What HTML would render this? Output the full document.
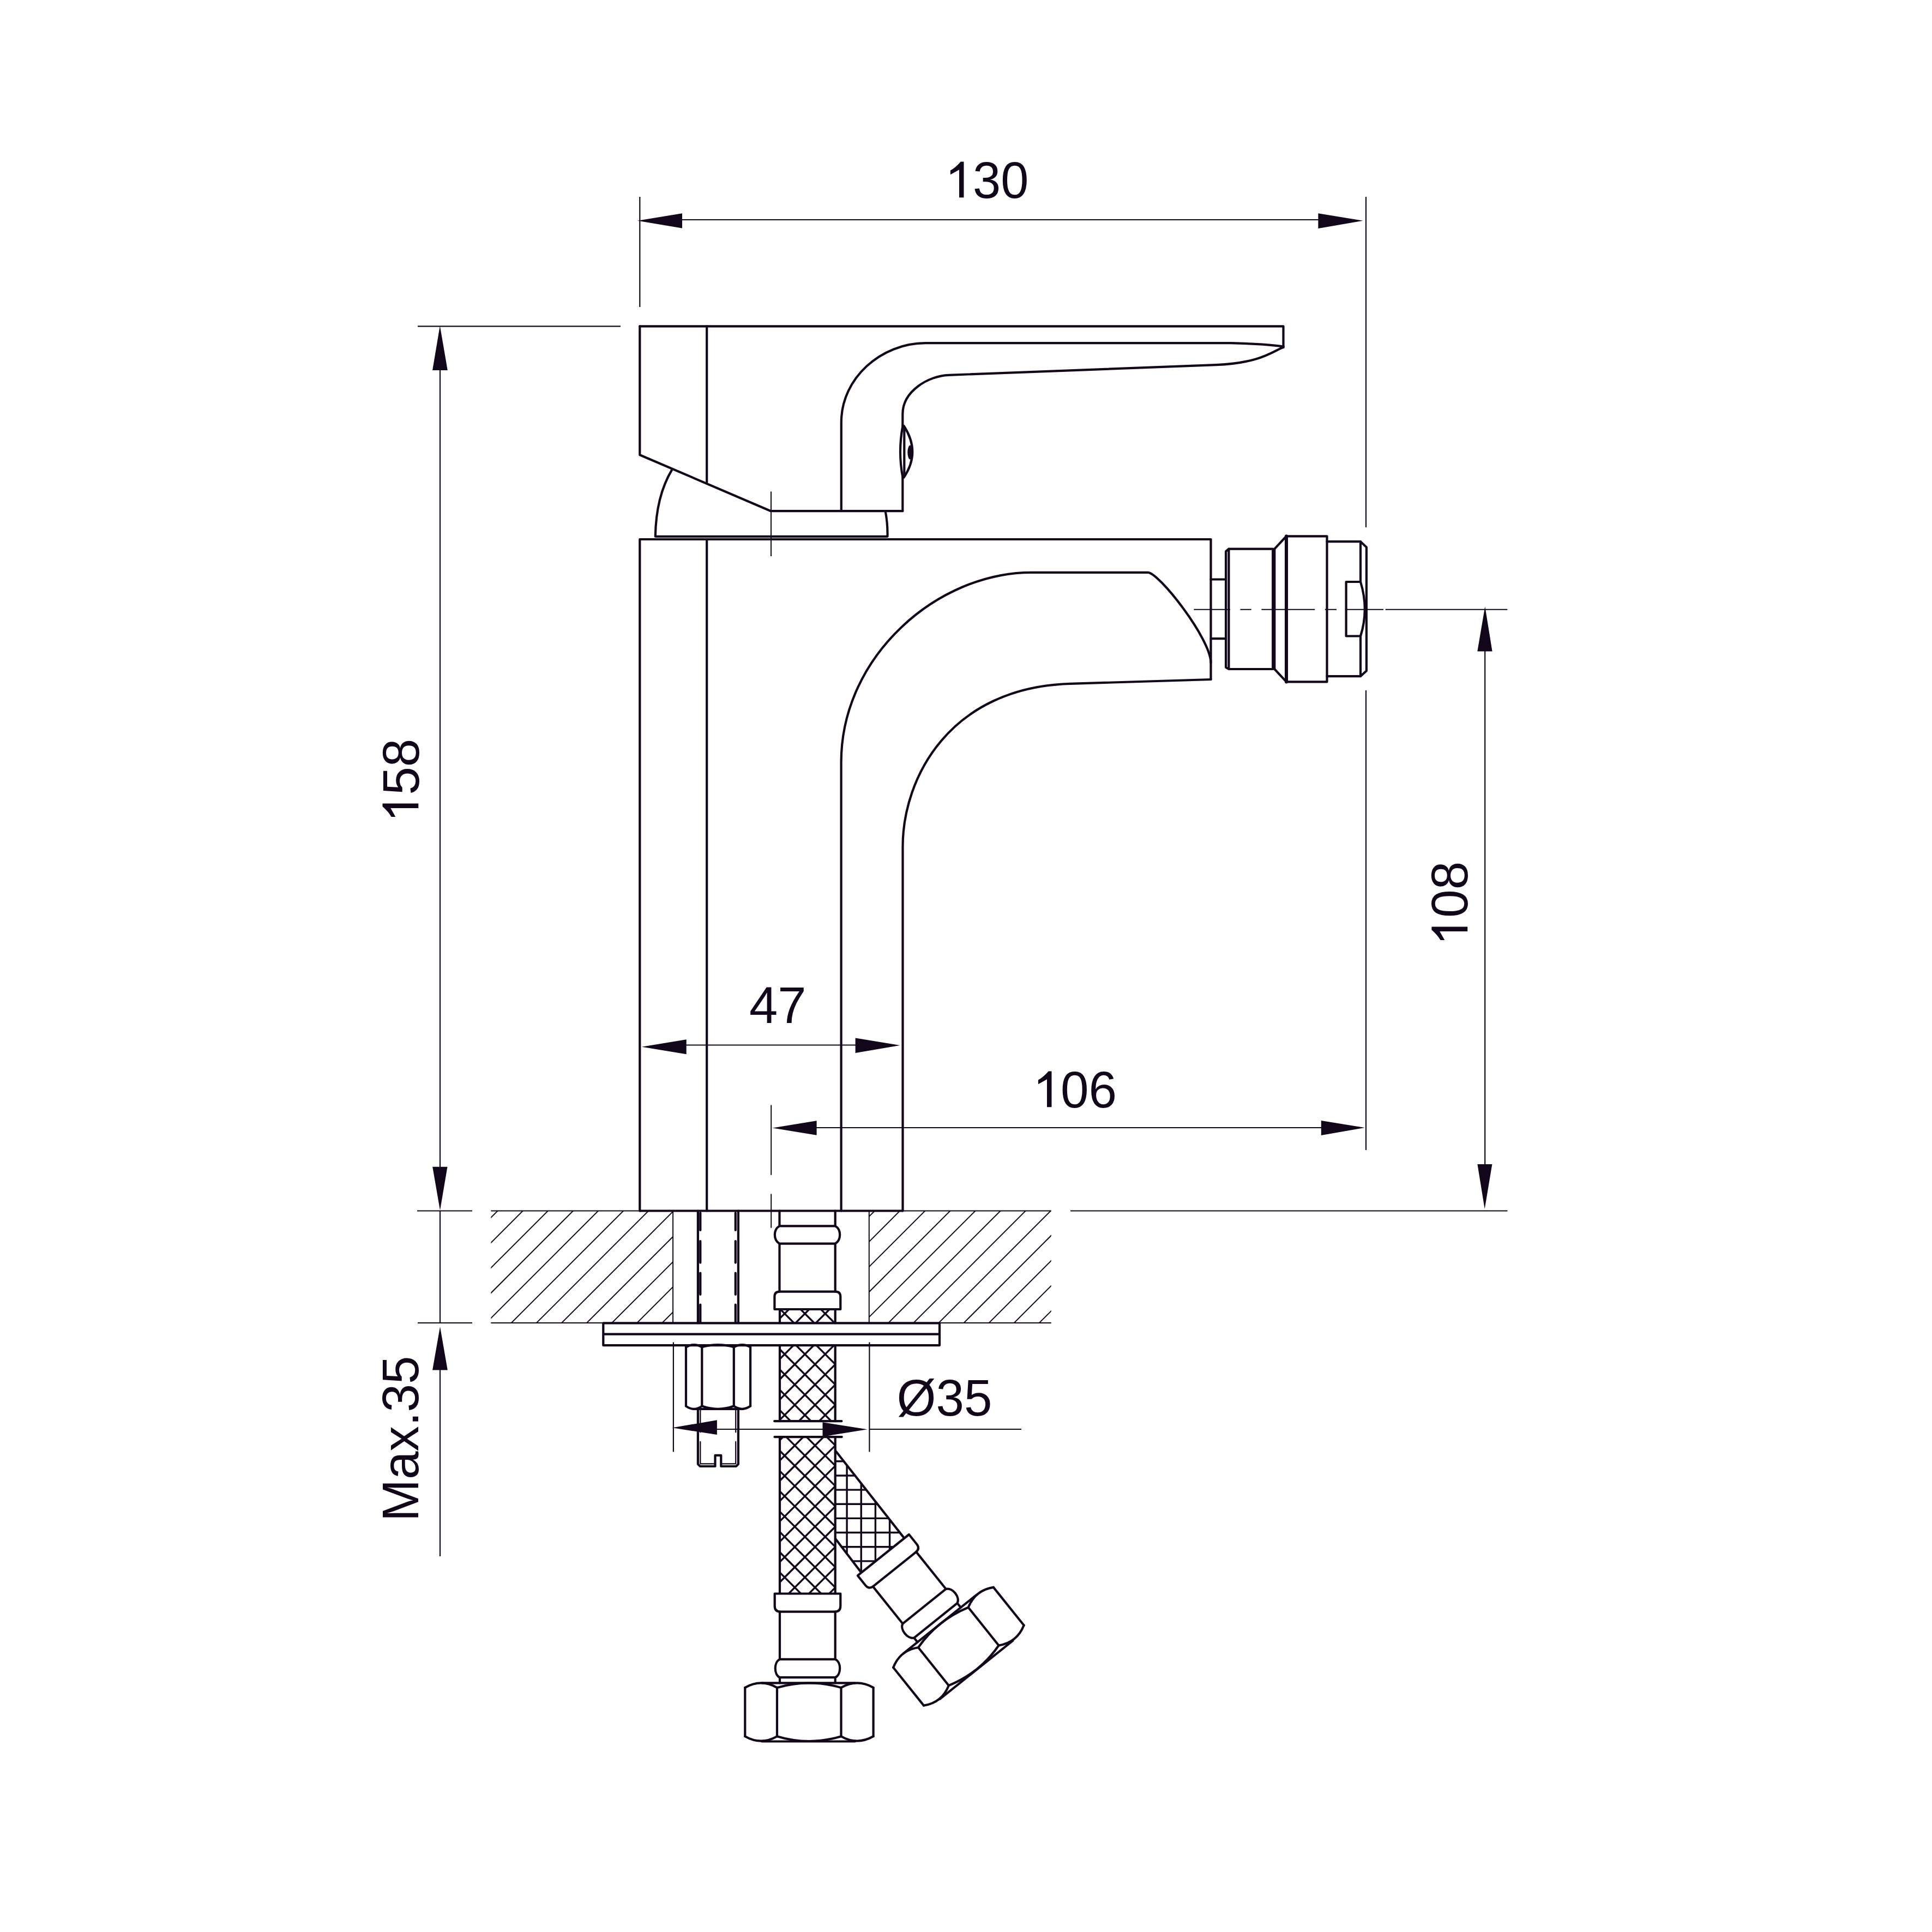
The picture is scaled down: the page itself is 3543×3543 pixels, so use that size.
<!DOCTYPE html>
<html><head><meta charset="utf-8"><style>
html,body{margin:0;padding:0;background:#fff;}
svg{display:block;}
text{font-family:"Liberation Sans",sans-serif;font-size:94px;fill:#12071a;}
</style></head><body>
<svg width="3543" height="3543" viewBox="0 0 3543 3543">
<defs>
<clipPath id="hl"><rect x="900.3" y="2220.5" width="334.5" height="205.5"/></clipPath>
<clipPath id="hr"><rect x="1594.1" y="2220.5" width="333.7" height="205.5"/></clipPath>
<clipPath id="hose1a"><rect x="1430" y="2467.4" width="101.7" height="138.8"/></clipPath>
<clipPath id="hose1b"><rect x="1430" y="2635.1" width="101.7" height="288"/></clipPath>
<clipPath id="hose0"><rect x="1430" y="2401" width="101.7" height="25.4"/></clipPath>
<clipPath id="hose2"><polygon points="1532,2660.7 1657.7,2820.1 1579,2883.3 1532.4,2822.2"/></clipPath>
</defs>
<rect width="3543" height="3543" fill="#fff"/>
<g stroke="#12071a" stroke-width="2.2" fill="none">
<line x1="1173.3" y1="361" x2="1173.3" y2="563"/>
<line x1="2505" y1="361" x2="2505" y2="967"/>
<line x1="2505" y1="1266" x2="2505" y2="2109"/>
<line x1="1250" y1="403" x2="2418" y2="403"/>
<line x1="766" y1="598.3" x2="1138" y2="598.3"/>
<line x1="765" y1="2220.5" x2="866" y2="2220.5"/>
<line x1="766" y1="2426" x2="866" y2="2426"/>
<line x1="807" y1="679" x2="807" y2="2140"/>
<line x1="807" y1="2220.5" x2="807" y2="2426"/>
<line x1="807" y1="2512" x2="807" y2="2854"/>
<line x1="2723.2" y1="1194" x2="2723.2" y2="2135"/>
<line x1="1963" y1="2220.5" x2="2764.5" y2="2220.5"/>
<line x1="1258" y1="1916.5" x2="1569" y2="1916.5"/>
<line x1="1497" y1="2068" x2="2423" y2="2068"/>
<line x1="1234.9" y1="2461.5" x2="1234.9" y2="2662.5"/>
<line x1="1594.4" y1="2461.5" x2="1594.4" y2="2662.5"/>
<line x1="1314" y1="2621" x2="1509" y2="2621"/>
<line x1="1594.4" y1="2621" x2="1873" y2="2621"/>
<line x1="900.3" y1="2220.5" x2="1927.8" y2="2220.5"/>
<line x1="900.3" y1="2426" x2="1927.8" y2="2426"/>
</g>
<polygon points="1169,404.7 1251,391.3 1251,418.6" fill="#12071a"/>
<polygon points="2499.6,404.8 2417.4,391.3 2417.4,419" fill="#12071a"/>
<polygon points="806.8,597.5 793.1,679 820.8,679" fill="#12071a"/>
<polygon points="807,2219.6 793.2,2139.8 820.5,2139.8" fill="#12071a"/>
<polygon points="807,2433 793.1,2512.6 820.8,2512.6" fill="#12071a"/>
<polygon points="2723.3,1112.2 2709.3,1194.5 2736.6,1194.5" fill="#12071a"/>
<polygon points="2722.7,2217.1 2709.4,2135 2736.4,2135" fill="#12071a"/>
<polygon points="1176.8,1919.7 1258.7,1906.3 1258.7,1933.2" fill="#12071a"/>
<polygon points="1650.5,1917 1568.6,1903.5 1568.6,1930.9" fill="#12071a"/>
<polygon points="1416.6,2068.4 1497.6,2055.3 1497.6,2081.8" fill="#12071a"/>
<polygon points="2502.9,2068 2422.8,2054.9 2422.8,2081.9" fill="#12071a"/>
<polygon points="1232.8,2618.3 1314.9,2604.2 1314.9,2631.1" fill="#12071a"/>
<polygon points="1590.5,2621.2 1508.5,2608.2 1508.5,2634.6" fill="#12071a"/>
<g stroke="#12071a" stroke-width="2" fill="none" clip-path="url(#hl)"><line x1="841.0" y1="2200" x2="591.0" y2="2450"/>
<line x1="887.0999999999999" y1="2200" x2="637.0999999999999" y2="2450"/>
<line x1="933.1999999999998" y1="2200" x2="683.1999999999998" y2="2450"/>
<line x1="979.2999999999997" y1="2200" x2="729.2999999999997" y2="2450"/>
<line x1="1025.3999999999996" y1="2200" x2="775.3999999999996" y2="2450"/>
<line x1="1071.5" y1="2200" x2="821.5" y2="2450"/>
<line x1="1117.6" y1="2200" x2="867.5999999999999" y2="2450"/>
<line x1="1163.6999999999998" y1="2200" x2="913.6999999999998" y2="2450"/>
<line x1="1209.7999999999997" y1="2200" x2="959.7999999999997" y2="2450"/>
<line x1="1255.8999999999996" y1="2200" x2="1005.8999999999996" y2="2450"/>
<line x1="1302.0" y1="2200" x2="1052.0" y2="2450"/>
<line x1="1348.1" y1="2200" x2="1098.1" y2="2450"/>
<line x1="1394.1999999999998" y1="2200" x2="1144.1999999999998" y2="2450"/>
<line x1="1440.2999999999997" y1="2200" x2="1190.2999999999997" y2="2450"/>
<line x1="1486.3999999999996" y1="2200" x2="1236.3999999999996" y2="2450"/>
<line x1="1532.5" y1="2200" x2="1282.5" y2="2450"/>
<line x1="1578.6" y1="2200" x2="1328.6" y2="2450"/>
<line x1="1624.6999999999998" y1="2200" x2="1374.6999999999998" y2="2450"/>
<line x1="1670.7999999999997" y1="2200" x2="1420.7999999999997" y2="2450"/>
<line x1="1716.8999999999996" y1="2200" x2="1466.8999999999996" y2="2450"/>
<line x1="1763.0" y1="2200" x2="1513.0" y2="2450"/>
<line x1="1809.1" y1="2200" x2="1559.1" y2="2450"/>
<line x1="1855.1999999999998" y1="2200" x2="1605.1999999999998" y2="2450"/>
<line x1="1901.3000000000002" y1="2200" x2="1651.3000000000002" y2="2450"/>
<line x1="1947.3999999999996" y1="2200" x2="1697.3999999999996" y2="2450"/>
<line x1="1993.5" y1="2200" x2="1743.5" y2="2450"/>
<line x1="2039.6000000000004" y1="2200" x2="1789.6000000000004" y2="2450"/>
<line x1="2085.7" y1="2200" x2="1835.6999999999998" y2="2450"/>
<line x1="2131.8" y1="2200" x2="1881.8000000000002" y2="2450"/>
<line x1="2177.8999999999996" y1="2200" x2="1927.8999999999996" y2="2450"/>
<line x1="2224.0" y1="2200" x2="1974.0" y2="2450"/>
<line x1="2270.1000000000004" y1="2200" x2="2020.1000000000004" y2="2450"/>
<line x1="2316.2" y1="2200" x2="2066.2" y2="2450"/>
<line x1="2362.3" y1="2200" x2="2112.3" y2="2450"/>
<line x1="2408.3999999999996" y1="2200" x2="2158.3999999999996" y2="2450"/>
<line x1="2454.5" y1="2200" x2="2204.5" y2="2450"/>
<line x1="2500.6000000000004" y1="2200" x2="2250.6000000000004" y2="2450"/>
<line x1="2546.7" y1="2200" x2="2296.7" y2="2450"/>
<line x1="2592.8" y1="2200" x2="2342.8" y2="2450"/>
<line x1="2638.8999999999996" y1="2200" x2="2388.8999999999996" y2="2450"/>
<line x1="2685.0" y1="2200" x2="2435.0" y2="2450"/>
<line x1="2731.1000000000004" y1="2200" x2="2481.1000000000004" y2="2450"/></g>
<g stroke="#12071a" stroke-width="2" fill="none" clip-path="url(#hr)"><line x1="841.0" y1="2200" x2="591.0" y2="2450"/>
<line x1="887.0999999999999" y1="2200" x2="637.0999999999999" y2="2450"/>
<line x1="933.1999999999998" y1="2200" x2="683.1999999999998" y2="2450"/>
<line x1="979.2999999999997" y1="2200" x2="729.2999999999997" y2="2450"/>
<line x1="1025.3999999999996" y1="2200" x2="775.3999999999996" y2="2450"/>
<line x1="1071.5" y1="2200" x2="821.5" y2="2450"/>
<line x1="1117.6" y1="2200" x2="867.5999999999999" y2="2450"/>
<line x1="1163.6999999999998" y1="2200" x2="913.6999999999998" y2="2450"/>
<line x1="1209.7999999999997" y1="2200" x2="959.7999999999997" y2="2450"/>
<line x1="1255.8999999999996" y1="2200" x2="1005.8999999999996" y2="2450"/>
<line x1="1302.0" y1="2200" x2="1052.0" y2="2450"/>
<line x1="1348.1" y1="2200" x2="1098.1" y2="2450"/>
<line x1="1394.1999999999998" y1="2200" x2="1144.1999999999998" y2="2450"/>
<line x1="1440.2999999999997" y1="2200" x2="1190.2999999999997" y2="2450"/>
<line x1="1486.3999999999996" y1="2200" x2="1236.3999999999996" y2="2450"/>
<line x1="1532.5" y1="2200" x2="1282.5" y2="2450"/>
<line x1="1578.6" y1="2200" x2="1328.6" y2="2450"/>
<line x1="1624.6999999999998" y1="2200" x2="1374.6999999999998" y2="2450"/>
<line x1="1670.7999999999997" y1="2200" x2="1420.7999999999997" y2="2450"/>
<line x1="1716.8999999999996" y1="2200" x2="1466.8999999999996" y2="2450"/>
<line x1="1763.0" y1="2200" x2="1513.0" y2="2450"/>
<line x1="1809.1" y1="2200" x2="1559.1" y2="2450"/>
<line x1="1855.1999999999998" y1="2200" x2="1605.1999999999998" y2="2450"/>
<line x1="1901.3000000000002" y1="2200" x2="1651.3000000000002" y2="2450"/>
<line x1="1947.3999999999996" y1="2200" x2="1697.3999999999996" y2="2450"/>
<line x1="1993.5" y1="2200" x2="1743.5" y2="2450"/>
<line x1="2039.6000000000004" y1="2200" x2="1789.6000000000004" y2="2450"/>
<line x1="2085.7" y1="2200" x2="1835.6999999999998" y2="2450"/>
<line x1="2131.8" y1="2200" x2="1881.8000000000002" y2="2450"/>
<line x1="2177.8999999999996" y1="2200" x2="1927.8999999999996" y2="2450"/>
<line x1="2224.0" y1="2200" x2="1974.0" y2="2450"/>
<line x1="2270.1000000000004" y1="2200" x2="2020.1000000000004" y2="2450"/>
<line x1="2316.2" y1="2200" x2="2066.2" y2="2450"/>
<line x1="2362.3" y1="2200" x2="2112.3" y2="2450"/>
<line x1="2408.3999999999996" y1="2200" x2="2158.3999999999996" y2="2450"/>
<line x1="2454.5" y1="2200" x2="2204.5" y2="2450"/>
<line x1="2500.6000000000004" y1="2200" x2="2250.6000000000004" y2="2450"/>
<line x1="2546.7" y1="2200" x2="2296.7" y2="2450"/>
<line x1="2592.8" y1="2200" x2="2342.8" y2="2450"/>
<line x1="2638.8999999999996" y1="2200" x2="2388.8999999999996" y2="2450"/>
<line x1="2685.0" y1="2200" x2="2435.0" y2="2450"/>
<line x1="2731.1000000000004" y1="2200" x2="2481.1000000000004" y2="2450"/></g>
<g stroke="#12071a" stroke-width="3.4" fill="none" clip-path="url(#hose1a)"><line x1="815.5" y1="2400" x2="215.5" y2="3000"/>
<line x1="611.5" y1="2400" x2="1211.5" y2="3000"/>
<line x1="852.6999999999998" y1="2400" x2="252.69999999999982" y2="3000"/>
<line x1="648.6999999999998" y1="2400" x2="1248.6999999999998" y2="3000"/>
<line x1="889.9000000000001" y1="2400" x2="289.9000000000001" y2="3000"/>
<line x1="685.9000000000001" y1="2400" x2="1285.9" y2="3000"/>
<line x1="927.0999999999999" y1="2400" x2="327.0999999999999" y2="3000"/>
<line x1="723.0999999999999" y1="2400" x2="1323.1" y2="3000"/>
<line x1="964.3000000000002" y1="2400" x2="364.3000000000002" y2="3000"/>
<line x1="760.3" y1="2400" x2="1360.3" y2="3000"/>
<line x1="1001.5" y1="2400" x2="401.5" y2="3000"/>
<line x1="797.5" y1="2400" x2="1397.5" y2="3000"/>
<line x1="1038.6999999999998" y1="2400" x2="438.6999999999998" y2="3000"/>
<line x1="834.6999999999998" y1="2400" x2="1434.6999999999998" y2="3000"/>
<line x1="1075.9" y1="2400" x2="475.9000000000001" y2="3000"/>
<line x1="871.9000000000001" y1="2400" x2="1471.9" y2="3000"/>
<line x1="1113.1" y1="2400" x2="513.0999999999999" y2="3000"/>
<line x1="909.0999999999999" y1="2400" x2="1509.1" y2="3000"/>
<line x1="1150.3000000000002" y1="2400" x2="550.3000000000002" y2="3000"/>
<line x1="946.3" y1="2400" x2="1546.3" y2="3000"/>
<line x1="1187.5" y1="2400" x2="587.5" y2="3000"/>
<line x1="983.5" y1="2400" x2="1583.5" y2="3000"/>
<line x1="1224.6999999999998" y1="2400" x2="624.6999999999998" y2="3000"/>
<line x1="1020.7" y1="2400" x2="1620.7" y2="3000"/>
<line x1="1261.9" y1="2400" x2="661.9000000000001" y2="3000"/>
<line x1="1057.9" y1="2400" x2="1657.9" y2="3000"/>
<line x1="1299.1" y1="2400" x2="699.0999999999999" y2="3000"/>
<line x1="1095.1" y1="2400" x2="1695.1" y2="3000"/>
<line x1="1336.3000000000002" y1="2400" x2="736.3000000000002" y2="3000"/>
<line x1="1132.3" y1="2400" x2="1732.3" y2="3000"/>
<line x1="1373.5" y1="2400" x2="773.5" y2="3000"/>
<line x1="1169.5" y1="2400" x2="1769.5" y2="3000"/>
<line x1="1410.6999999999998" y1="2400" x2="810.6999999999998" y2="3000"/>
<line x1="1206.7" y1="2400" x2="1806.7" y2="3000"/>
<line x1="1447.9" y1="2400" x2="847.9000000000001" y2="3000"/>
<line x1="1243.9" y1="2400" x2="1843.9" y2="3000"/>
<line x1="1485.1" y1="2400" x2="885.0999999999999" y2="3000"/>
<line x1="1281.1" y1="2400" x2="1881.1" y2="3000"/>
<line x1="1522.3000000000002" y1="2400" x2="922.3000000000002" y2="3000"/>
<line x1="1318.3" y1="2400" x2="1918.3" y2="3000"/>
<line x1="1559.5" y1="2400" x2="959.5" y2="3000"/>
<line x1="1355.5" y1="2400" x2="1955.5" y2="3000"/>
<line x1="1596.6999999999998" y1="2400" x2="996.6999999999998" y2="3000"/>
<line x1="1392.7" y1="2400" x2="1992.7" y2="3000"/>
<line x1="1633.9" y1="2400" x2="1033.9" y2="3000"/>
<line x1="1429.9" y1="2400" x2="2029.9" y2="3000"/>
<line x1="1671.1" y1="2400" x2="1071.1" y2="3000"/>
<line x1="1467.1" y1="2400" x2="2067.1" y2="3000"/>
<line x1="1708.3000000000002" y1="2400" x2="1108.3000000000002" y2="3000"/>
<line x1="1504.3" y1="2400" x2="2104.3" y2="3000"/>
<line x1="1745.5" y1="2400" x2="1145.5" y2="3000"/>
<line x1="1541.5" y1="2400" x2="2141.5" y2="3000"/>
<line x1="1782.6999999999998" y1="2400" x2="1182.6999999999998" y2="3000"/>
<line x1="1578.7" y1="2400" x2="2178.7" y2="3000"/>
<line x1="1819.8999999999996" y1="2400" x2="1219.8999999999996" y2="3000"/>
<line x1="1615.9" y1="2400" x2="2215.9" y2="3000"/>
<line x1="1857.1000000000004" y1="2400" x2="1257.1000000000004" y2="3000"/>
<line x1="1653.1" y1="2400" x2="2253.1" y2="3000"/>
<line x1="1894.3000000000002" y1="2400" x2="1294.3000000000002" y2="3000"/>
<line x1="1690.3" y1="2400" x2="2290.3" y2="3000"/>
<line x1="1931.5" y1="2400" x2="1331.5" y2="3000"/>
<line x1="1727.5" y1="2400" x2="2327.5" y2="3000"/>
<line x1="1968.6999999999998" y1="2400" x2="1368.6999999999998" y2="3000"/>
<line x1="1764.7" y1="2400" x2="2364.7" y2="3000"/>
<line x1="2005.8999999999996" y1="2400" x2="1405.8999999999996" y2="3000"/>
<line x1="1801.9" y1="2400" x2="2401.9" y2="3000"/>
<line x1="2043.1000000000004" y1="2400" x2="1443.1000000000004" y2="3000"/>
<line x1="1839.1" y1="2400" x2="2439.1" y2="3000"/>
<line x1="2080.3" y1="2400" x2="1480.3000000000002" y2="3000"/>
<line x1="1876.3000000000002" y1="2400" x2="2476.3" y2="3000"/>
<line x1="2117.5" y1="2400" x2="1517.5" y2="3000"/>
<line x1="1913.5" y1="2400" x2="2513.5" y2="3000"/>
<line x1="2154.7" y1="2400" x2="1554.6999999999998" y2="3000"/>
<line x1="1950.7" y1="2400" x2="2550.7" y2="3000"/>
<line x1="2191.8999999999996" y1="2400" x2="1591.8999999999996" y2="3000"/>
<line x1="1987.9" y1="2400" x2="2587.9" y2="3000"/>
<line x1="2229.1000000000004" y1="2400" x2="1629.1000000000004" y2="3000"/>
<line x1="2025.1" y1="2400" x2="2625.1" y2="3000"/>
<line x1="2266.3" y1="2400" x2="1666.3000000000002" y2="3000"/>
<line x1="2062.3" y1="2400" x2="2662.3" y2="3000"/>
<line x1="2303.5" y1="2400" x2="1703.5" y2="3000"/>
<line x1="2099.5" y1="2400" x2="2699.5" y2="3000"/>
<line x1="2340.7" y1="2400" x2="1740.6999999999998" y2="3000"/>
<line x1="2136.7" y1="2400" x2="2736.7" y2="3000"/>
<line x1="2377.8999999999996" y1="2400" x2="1777.8999999999996" y2="3000"/>
<line x1="2173.9" y1="2400" x2="2773.9" y2="3000"/>
<line x1="2415.1000000000004" y1="2400" x2="1815.1000000000004" y2="3000"/>
<line x1="2211.1" y1="2400" x2="2811.1" y2="3000"/>
<line x1="2452.3" y1="2400" x2="1852.3000000000002" y2="3000"/>
<line x1="2248.3" y1="2400" x2="2848.3" y2="3000"/>
<line x1="2489.5" y1="2400" x2="1889.5" y2="3000"/>
<line x1="2285.5" y1="2400" x2="2885.5" y2="3000"/>
<line x1="2526.7" y1="2400" x2="1926.6999999999998" y2="3000"/>
<line x1="2322.7" y1="2400" x2="2922.7" y2="3000"/>
<line x1="2563.8999999999996" y1="2400" x2="1963.8999999999996" y2="3000"/>
<line x1="2359.9" y1="2400" x2="2959.9" y2="3000"/>
<line x1="2601.1000000000004" y1="2400" x2="2001.1000000000004" y2="3000"/>
<line x1="2397.1000000000004" y1="2400" x2="2997.1000000000004" y2="3000"/>
<line x1="2638.3" y1="2400" x2="2038.3000000000002" y2="3000"/>
<line x1="2434.3" y1="2400" x2="3034.3" y2="3000"/>
<line x1="2675.5" y1="2400" x2="2075.5" y2="3000"/>
<line x1="2471.5" y1="2400" x2="3071.5" y2="3000"/>
<line x1="2712.7" y1="2400" x2="2112.7" y2="3000"/>
<line x1="2508.7" y1="2400" x2="3108.7" y2="3000"/>
<line x1="2749.8999999999996" y1="2400" x2="2149.8999999999996" y2="3000"/>
<line x1="2545.9" y1="2400" x2="3145.9" y2="3000"/>
<line x1="2787.1000000000004" y1="2400" x2="2187.1000000000004" y2="3000"/>
<line x1="2583.1000000000004" y1="2400" x2="3183.1000000000004" y2="3000"/>
<line x1="2824.3" y1="2400" x2="2224.3" y2="3000"/>
<line x1="2620.3" y1="2400" x2="3220.3" y2="3000"/>
<line x1="2861.5" y1="2400" x2="2261.5" y2="3000"/>
<line x1="2657.5" y1="2400" x2="3257.5" y2="3000"/>
<line x1="2898.7" y1="2400" x2="2298.7" y2="3000"/>
<line x1="2694.7" y1="2400" x2="3294.7" y2="3000"/>
<line x1="2935.8999999999996" y1="2400" x2="2335.8999999999996" y2="3000"/>
<line x1="2731.9" y1="2400" x2="3331.9" y2="3000"/>
<line x1="2973.1000000000004" y1="2400" x2="2373.1000000000004" y2="3000"/>
<line x1="2769.1000000000004" y1="2400" x2="3369.1000000000004" y2="3000"/>
<line x1="3010.3" y1="2400" x2="2410.3" y2="3000"/>
<line x1="2806.3" y1="2400" x2="3406.3" y2="3000"/></g>
<g stroke="#12071a" stroke-width="3.4" fill="none" clip-path="url(#hose1b)"><line x1="815.5" y1="2400" x2="215.5" y2="3000"/>
<line x1="611.5" y1="2400" x2="1211.5" y2="3000"/>
<line x1="852.6999999999998" y1="2400" x2="252.69999999999982" y2="3000"/>
<line x1="648.6999999999998" y1="2400" x2="1248.6999999999998" y2="3000"/>
<line x1="889.9000000000001" y1="2400" x2="289.9000000000001" y2="3000"/>
<line x1="685.9000000000001" y1="2400" x2="1285.9" y2="3000"/>
<line x1="927.0999999999999" y1="2400" x2="327.0999999999999" y2="3000"/>
<line x1="723.0999999999999" y1="2400" x2="1323.1" y2="3000"/>
<line x1="964.3000000000002" y1="2400" x2="364.3000000000002" y2="3000"/>
<line x1="760.3" y1="2400" x2="1360.3" y2="3000"/>
<line x1="1001.5" y1="2400" x2="401.5" y2="3000"/>
<line x1="797.5" y1="2400" x2="1397.5" y2="3000"/>
<line x1="1038.6999999999998" y1="2400" x2="438.6999999999998" y2="3000"/>
<line x1="834.6999999999998" y1="2400" x2="1434.6999999999998" y2="3000"/>
<line x1="1075.9" y1="2400" x2="475.9000000000001" y2="3000"/>
<line x1="871.9000000000001" y1="2400" x2="1471.9" y2="3000"/>
<line x1="1113.1" y1="2400" x2="513.0999999999999" y2="3000"/>
<line x1="909.0999999999999" y1="2400" x2="1509.1" y2="3000"/>
<line x1="1150.3000000000002" y1="2400" x2="550.3000000000002" y2="3000"/>
<line x1="946.3" y1="2400" x2="1546.3" y2="3000"/>
<line x1="1187.5" y1="2400" x2="587.5" y2="3000"/>
<line x1="983.5" y1="2400" x2="1583.5" y2="3000"/>
<line x1="1224.6999999999998" y1="2400" x2="624.6999999999998" y2="3000"/>
<line x1="1020.7" y1="2400" x2="1620.7" y2="3000"/>
<line x1="1261.9" y1="2400" x2="661.9000000000001" y2="3000"/>
<line x1="1057.9" y1="2400" x2="1657.9" y2="3000"/>
<line x1="1299.1" y1="2400" x2="699.0999999999999" y2="3000"/>
<line x1="1095.1" y1="2400" x2="1695.1" y2="3000"/>
<line x1="1336.3000000000002" y1="2400" x2="736.3000000000002" y2="3000"/>
<line x1="1132.3" y1="2400" x2="1732.3" y2="3000"/>
<line x1="1373.5" y1="2400" x2="773.5" y2="3000"/>
<line x1="1169.5" y1="2400" x2="1769.5" y2="3000"/>
<line x1="1410.6999999999998" y1="2400" x2="810.6999999999998" y2="3000"/>
<line x1="1206.7" y1="2400" x2="1806.7" y2="3000"/>
<line x1="1447.9" y1="2400" x2="847.9000000000001" y2="3000"/>
<line x1="1243.9" y1="2400" x2="1843.9" y2="3000"/>
<line x1="1485.1" y1="2400" x2="885.0999999999999" y2="3000"/>
<line x1="1281.1" y1="2400" x2="1881.1" y2="3000"/>
<line x1="1522.3000000000002" y1="2400" x2="922.3000000000002" y2="3000"/>
<line x1="1318.3" y1="2400" x2="1918.3" y2="3000"/>
<line x1="1559.5" y1="2400" x2="959.5" y2="3000"/>
<line x1="1355.5" y1="2400" x2="1955.5" y2="3000"/>
<line x1="1596.6999999999998" y1="2400" x2="996.6999999999998" y2="3000"/>
<line x1="1392.7" y1="2400" x2="1992.7" y2="3000"/>
<line x1="1633.9" y1="2400" x2="1033.9" y2="3000"/>
<line x1="1429.9" y1="2400" x2="2029.9" y2="3000"/>
<line x1="1671.1" y1="2400" x2="1071.1" y2="3000"/>
<line x1="1467.1" y1="2400" x2="2067.1" y2="3000"/>
<line x1="1708.3000000000002" y1="2400" x2="1108.3000000000002" y2="3000"/>
<line x1="1504.3" y1="2400" x2="2104.3" y2="3000"/>
<line x1="1745.5" y1="2400" x2="1145.5" y2="3000"/>
<line x1="1541.5" y1="2400" x2="2141.5" y2="3000"/>
<line x1="1782.6999999999998" y1="2400" x2="1182.6999999999998" y2="3000"/>
<line x1="1578.7" y1="2400" x2="2178.7" y2="3000"/>
<line x1="1819.8999999999996" y1="2400" x2="1219.8999999999996" y2="3000"/>
<line x1="1615.9" y1="2400" x2="2215.9" y2="3000"/>
<line x1="1857.1000000000004" y1="2400" x2="1257.1000000000004" y2="3000"/>
<line x1="1653.1" y1="2400" x2="2253.1" y2="3000"/>
<line x1="1894.3000000000002" y1="2400" x2="1294.3000000000002" y2="3000"/>
<line x1="1690.3" y1="2400" x2="2290.3" y2="3000"/>
<line x1="1931.5" y1="2400" x2="1331.5" y2="3000"/>
<line x1="1727.5" y1="2400" x2="2327.5" y2="3000"/>
<line x1="1968.6999999999998" y1="2400" x2="1368.6999999999998" y2="3000"/>
<line x1="1764.7" y1="2400" x2="2364.7" y2="3000"/>
<line x1="2005.8999999999996" y1="2400" x2="1405.8999999999996" y2="3000"/>
<line x1="1801.9" y1="2400" x2="2401.9" y2="3000"/>
<line x1="2043.1000000000004" y1="2400" x2="1443.1000000000004" y2="3000"/>
<line x1="1839.1" y1="2400" x2="2439.1" y2="3000"/>
<line x1="2080.3" y1="2400" x2="1480.3000000000002" y2="3000"/>
<line x1="1876.3000000000002" y1="2400" x2="2476.3" y2="3000"/>
<line x1="2117.5" y1="2400" x2="1517.5" y2="3000"/>
<line x1="1913.5" y1="2400" x2="2513.5" y2="3000"/>
<line x1="2154.7" y1="2400" x2="1554.6999999999998" y2="3000"/>
<line x1="1950.7" y1="2400" x2="2550.7" y2="3000"/>
<line x1="2191.8999999999996" y1="2400" x2="1591.8999999999996" y2="3000"/>
<line x1="1987.9" y1="2400" x2="2587.9" y2="3000"/>
<line x1="2229.1000000000004" y1="2400" x2="1629.1000000000004" y2="3000"/>
<line x1="2025.1" y1="2400" x2="2625.1" y2="3000"/>
<line x1="2266.3" y1="2400" x2="1666.3000000000002" y2="3000"/>
<line x1="2062.3" y1="2400" x2="2662.3" y2="3000"/>
<line x1="2303.5" y1="2400" x2="1703.5" y2="3000"/>
<line x1="2099.5" y1="2400" x2="2699.5" y2="3000"/>
<line x1="2340.7" y1="2400" x2="1740.6999999999998" y2="3000"/>
<line x1="2136.7" y1="2400" x2="2736.7" y2="3000"/>
<line x1="2377.8999999999996" y1="2400" x2="1777.8999999999996" y2="3000"/>
<line x1="2173.9" y1="2400" x2="2773.9" y2="3000"/>
<line x1="2415.1000000000004" y1="2400" x2="1815.1000000000004" y2="3000"/>
<line x1="2211.1" y1="2400" x2="2811.1" y2="3000"/>
<line x1="2452.3" y1="2400" x2="1852.3000000000002" y2="3000"/>
<line x1="2248.3" y1="2400" x2="2848.3" y2="3000"/>
<line x1="2489.5" y1="2400" x2="1889.5" y2="3000"/>
<line x1="2285.5" y1="2400" x2="2885.5" y2="3000"/>
<line x1="2526.7" y1="2400" x2="1926.6999999999998" y2="3000"/>
<line x1="2322.7" y1="2400" x2="2922.7" y2="3000"/>
<line x1="2563.8999999999996" y1="2400" x2="1963.8999999999996" y2="3000"/>
<line x1="2359.9" y1="2400" x2="2959.9" y2="3000"/>
<line x1="2601.1000000000004" y1="2400" x2="2001.1000000000004" y2="3000"/>
<line x1="2397.1000000000004" y1="2400" x2="2997.1000000000004" y2="3000"/>
<line x1="2638.3" y1="2400" x2="2038.3000000000002" y2="3000"/>
<line x1="2434.3" y1="2400" x2="3034.3" y2="3000"/>
<line x1="2675.5" y1="2400" x2="2075.5" y2="3000"/>
<line x1="2471.5" y1="2400" x2="3071.5" y2="3000"/>
<line x1="2712.7" y1="2400" x2="2112.7" y2="3000"/>
<line x1="2508.7" y1="2400" x2="3108.7" y2="3000"/>
<line x1="2749.8999999999996" y1="2400" x2="2149.8999999999996" y2="3000"/>
<line x1="2545.9" y1="2400" x2="3145.9" y2="3000"/>
<line x1="2787.1000000000004" y1="2400" x2="2187.1000000000004" y2="3000"/>
<line x1="2583.1000000000004" y1="2400" x2="3183.1000000000004" y2="3000"/>
<line x1="2824.3" y1="2400" x2="2224.3" y2="3000"/>
<line x1="2620.3" y1="2400" x2="3220.3" y2="3000"/>
<line x1="2861.5" y1="2400" x2="2261.5" y2="3000"/>
<line x1="2657.5" y1="2400" x2="3257.5" y2="3000"/>
<line x1="2898.7" y1="2400" x2="2298.7" y2="3000"/>
<line x1="2694.7" y1="2400" x2="3294.7" y2="3000"/>
<line x1="2935.8999999999996" y1="2400" x2="2335.8999999999996" y2="3000"/>
<line x1="2731.9" y1="2400" x2="3331.9" y2="3000"/>
<line x1="2973.1000000000004" y1="2400" x2="2373.1000000000004" y2="3000"/>
<line x1="2769.1000000000004" y1="2400" x2="3369.1000000000004" y2="3000"/>
<line x1="3010.3" y1="2400" x2="2410.3" y2="3000"/>
<line x1="2806.3" y1="2400" x2="3406.3" y2="3000"/></g>
<g stroke="#12071a" stroke-width="3.4" fill="none" clip-path="url(#hose0)"><line x1="815.5" y1="2400" x2="215.5" y2="3000"/>
<line x1="611.5" y1="2400" x2="1211.5" y2="3000"/>
<line x1="852.6999999999998" y1="2400" x2="252.69999999999982" y2="3000"/>
<line x1="648.6999999999998" y1="2400" x2="1248.6999999999998" y2="3000"/>
<line x1="889.9000000000001" y1="2400" x2="289.9000000000001" y2="3000"/>
<line x1="685.9000000000001" y1="2400" x2="1285.9" y2="3000"/>
<line x1="927.0999999999999" y1="2400" x2="327.0999999999999" y2="3000"/>
<line x1="723.0999999999999" y1="2400" x2="1323.1" y2="3000"/>
<line x1="964.3000000000002" y1="2400" x2="364.3000000000002" y2="3000"/>
<line x1="760.3" y1="2400" x2="1360.3" y2="3000"/>
<line x1="1001.5" y1="2400" x2="401.5" y2="3000"/>
<line x1="797.5" y1="2400" x2="1397.5" y2="3000"/>
<line x1="1038.6999999999998" y1="2400" x2="438.6999999999998" y2="3000"/>
<line x1="834.6999999999998" y1="2400" x2="1434.6999999999998" y2="3000"/>
<line x1="1075.9" y1="2400" x2="475.9000000000001" y2="3000"/>
<line x1="871.9000000000001" y1="2400" x2="1471.9" y2="3000"/>
<line x1="1113.1" y1="2400" x2="513.0999999999999" y2="3000"/>
<line x1="909.0999999999999" y1="2400" x2="1509.1" y2="3000"/>
<line x1="1150.3000000000002" y1="2400" x2="550.3000000000002" y2="3000"/>
<line x1="946.3" y1="2400" x2="1546.3" y2="3000"/>
<line x1="1187.5" y1="2400" x2="587.5" y2="3000"/>
<line x1="983.5" y1="2400" x2="1583.5" y2="3000"/>
<line x1="1224.6999999999998" y1="2400" x2="624.6999999999998" y2="3000"/>
<line x1="1020.7" y1="2400" x2="1620.7" y2="3000"/>
<line x1="1261.9" y1="2400" x2="661.9000000000001" y2="3000"/>
<line x1="1057.9" y1="2400" x2="1657.9" y2="3000"/>
<line x1="1299.1" y1="2400" x2="699.0999999999999" y2="3000"/>
<line x1="1095.1" y1="2400" x2="1695.1" y2="3000"/>
<line x1="1336.3000000000002" y1="2400" x2="736.3000000000002" y2="3000"/>
<line x1="1132.3" y1="2400" x2="1732.3" y2="3000"/>
<line x1="1373.5" y1="2400" x2="773.5" y2="3000"/>
<line x1="1169.5" y1="2400" x2="1769.5" y2="3000"/>
<line x1="1410.6999999999998" y1="2400" x2="810.6999999999998" y2="3000"/>
<line x1="1206.7" y1="2400" x2="1806.7" y2="3000"/>
<line x1="1447.9" y1="2400" x2="847.9000000000001" y2="3000"/>
<line x1="1243.9" y1="2400" x2="1843.9" y2="3000"/>
<line x1="1485.1" y1="2400" x2="885.0999999999999" y2="3000"/>
<line x1="1281.1" y1="2400" x2="1881.1" y2="3000"/>
<line x1="1522.3000000000002" y1="2400" x2="922.3000000000002" y2="3000"/>
<line x1="1318.3" y1="2400" x2="1918.3" y2="3000"/>
<line x1="1559.5" y1="2400" x2="959.5" y2="3000"/>
<line x1="1355.5" y1="2400" x2="1955.5" y2="3000"/>
<line x1="1596.6999999999998" y1="2400" x2="996.6999999999998" y2="3000"/>
<line x1="1392.7" y1="2400" x2="1992.7" y2="3000"/>
<line x1="1633.9" y1="2400" x2="1033.9" y2="3000"/>
<line x1="1429.9" y1="2400" x2="2029.9" y2="3000"/>
<line x1="1671.1" y1="2400" x2="1071.1" y2="3000"/>
<line x1="1467.1" y1="2400" x2="2067.1" y2="3000"/>
<line x1="1708.3000000000002" y1="2400" x2="1108.3000000000002" y2="3000"/>
<line x1="1504.3" y1="2400" x2="2104.3" y2="3000"/>
<line x1="1745.5" y1="2400" x2="1145.5" y2="3000"/>
<line x1="1541.5" y1="2400" x2="2141.5" y2="3000"/>
<line x1="1782.6999999999998" y1="2400" x2="1182.6999999999998" y2="3000"/>
<line x1="1578.7" y1="2400" x2="2178.7" y2="3000"/>
<line x1="1819.8999999999996" y1="2400" x2="1219.8999999999996" y2="3000"/>
<line x1="1615.9" y1="2400" x2="2215.9" y2="3000"/>
<line x1="1857.1000000000004" y1="2400" x2="1257.1000000000004" y2="3000"/>
<line x1="1653.1" y1="2400" x2="2253.1" y2="3000"/>
<line x1="1894.3000000000002" y1="2400" x2="1294.3000000000002" y2="3000"/>
<line x1="1690.3" y1="2400" x2="2290.3" y2="3000"/>
<line x1="1931.5" y1="2400" x2="1331.5" y2="3000"/>
<line x1="1727.5" y1="2400" x2="2327.5" y2="3000"/>
<line x1="1968.6999999999998" y1="2400" x2="1368.6999999999998" y2="3000"/>
<line x1="1764.7" y1="2400" x2="2364.7" y2="3000"/>
<line x1="2005.8999999999996" y1="2400" x2="1405.8999999999996" y2="3000"/>
<line x1="1801.9" y1="2400" x2="2401.9" y2="3000"/>
<line x1="2043.1000000000004" y1="2400" x2="1443.1000000000004" y2="3000"/>
<line x1="1839.1" y1="2400" x2="2439.1" y2="3000"/>
<line x1="2080.3" y1="2400" x2="1480.3000000000002" y2="3000"/>
<line x1="1876.3000000000002" y1="2400" x2="2476.3" y2="3000"/>
<line x1="2117.5" y1="2400" x2="1517.5" y2="3000"/>
<line x1="1913.5" y1="2400" x2="2513.5" y2="3000"/>
<line x1="2154.7" y1="2400" x2="1554.6999999999998" y2="3000"/>
<line x1="1950.7" y1="2400" x2="2550.7" y2="3000"/>
<line x1="2191.8999999999996" y1="2400" x2="1591.8999999999996" y2="3000"/>
<line x1="1987.9" y1="2400" x2="2587.9" y2="3000"/>
<line x1="2229.1000000000004" y1="2400" x2="1629.1000000000004" y2="3000"/>
<line x1="2025.1" y1="2400" x2="2625.1" y2="3000"/>
<line x1="2266.3" y1="2400" x2="1666.3000000000002" y2="3000"/>
<line x1="2062.3" y1="2400" x2="2662.3" y2="3000"/>
<line x1="2303.5" y1="2400" x2="1703.5" y2="3000"/>
<line x1="2099.5" y1="2400" x2="2699.5" y2="3000"/>
<line x1="2340.7" y1="2400" x2="1740.6999999999998" y2="3000"/>
<line x1="2136.7" y1="2400" x2="2736.7" y2="3000"/>
<line x1="2377.8999999999996" y1="2400" x2="1777.8999999999996" y2="3000"/>
<line x1="2173.9" y1="2400" x2="2773.9" y2="3000"/>
<line x1="2415.1000000000004" y1="2400" x2="1815.1000000000004" y2="3000"/>
<line x1="2211.1" y1="2400" x2="2811.1" y2="3000"/>
<line x1="2452.3" y1="2400" x2="1852.3000000000002" y2="3000"/>
<line x1="2248.3" y1="2400" x2="2848.3" y2="3000"/>
<line x1="2489.5" y1="2400" x2="1889.5" y2="3000"/>
<line x1="2285.5" y1="2400" x2="2885.5" y2="3000"/>
<line x1="2526.7" y1="2400" x2="1926.6999999999998" y2="3000"/>
<line x1="2322.7" y1="2400" x2="2922.7" y2="3000"/>
<line x1="2563.8999999999996" y1="2400" x2="1963.8999999999996" y2="3000"/>
<line x1="2359.9" y1="2400" x2="2959.9" y2="3000"/>
<line x1="2601.1000000000004" y1="2400" x2="2001.1000000000004" y2="3000"/>
<line x1="2397.1000000000004" y1="2400" x2="2997.1000000000004" y2="3000"/>
<line x1="2638.3" y1="2400" x2="2038.3000000000002" y2="3000"/>
<line x1="2434.3" y1="2400" x2="3034.3" y2="3000"/>
<line x1="2675.5" y1="2400" x2="2075.5" y2="3000"/>
<line x1="2471.5" y1="2400" x2="3071.5" y2="3000"/>
<line x1="2712.7" y1="2400" x2="2112.7" y2="3000"/>
<line x1="2508.7" y1="2400" x2="3108.7" y2="3000"/>
<line x1="2749.8999999999996" y1="2400" x2="2149.8999999999996" y2="3000"/>
<line x1="2545.9" y1="2400" x2="3145.9" y2="3000"/>
<line x1="2787.1000000000004" y1="2400" x2="2187.1000000000004" y2="3000"/>
<line x1="2583.1000000000004" y1="2400" x2="3183.1000000000004" y2="3000"/>
<line x1="2824.3" y1="2400" x2="2224.3" y2="3000"/>
<line x1="2620.3" y1="2400" x2="3220.3" y2="3000"/>
<line x1="2861.5" y1="2400" x2="2261.5" y2="3000"/>
<line x1="2657.5" y1="2400" x2="3257.5" y2="3000"/>
<line x1="2898.7" y1="2400" x2="2298.7" y2="3000"/>
<line x1="2694.7" y1="2400" x2="3294.7" y2="3000"/>
<line x1="2935.8999999999996" y1="2400" x2="2335.8999999999996" y2="3000"/>
<line x1="2731.9" y1="2400" x2="3331.9" y2="3000"/>
<line x1="2973.1000000000004" y1="2400" x2="2373.1000000000004" y2="3000"/>
<line x1="2769.1000000000004" y1="2400" x2="3369.1000000000004" y2="3000"/>
<line x1="3010.3" y1="2400" x2="2410.3" y2="3000"/>
<line x1="2806.3" y1="2400" x2="3406.3" y2="3000"/></g>
<g stroke="#12071a" stroke-width="3.4" fill="none" clip-path="url(#hose2)"><line x1="1500" y1="2418.3" x2="1750" y2="2418.3"/>
<line x1="1291.6" y1="2600" x2="1291.6" y2="2950"/>
<line x1="1500" y1="2444.4500000000003" x2="1750" y2="2444.4500000000003"/>
<line x1="1317.75" y1="2600" x2="1317.75" y2="2950"/>
<line x1="1500" y1="2470.6000000000004" x2="1750" y2="2470.6000000000004"/>
<line x1="1343.8999999999999" y1="2600" x2="1343.8999999999999" y2="2950"/>
<line x1="1500" y1="2496.75" x2="1750" y2="2496.75"/>
<line x1="1370.05" y1="2600" x2="1370.05" y2="2950"/>
<line x1="1500" y1="2522.9" x2="1750" y2="2522.9"/>
<line x1="1396.1999999999998" y1="2600" x2="1396.1999999999998" y2="2950"/>
<line x1="1500" y1="2549.05" x2="1750" y2="2549.05"/>
<line x1="1422.35" y1="2600" x2="1422.35" y2="2950"/>
<line x1="1500" y1="2575.2000000000003" x2="1750" y2="2575.2000000000003"/>
<line x1="1448.5" y1="2600" x2="1448.5" y2="2950"/>
<line x1="1500" y1="2601.3500000000004" x2="1750" y2="2601.3500000000004"/>
<line x1="1474.6499999999999" y1="2600" x2="1474.6499999999999" y2="2950"/>
<line x1="1500" y1="2627.5" x2="1750" y2="2627.5"/>
<line x1="1500.8" y1="2600" x2="1500.8" y2="2950"/>
<line x1="1500" y1="2653.65" x2="1750" y2="2653.65"/>
<line x1="1526.9499999999998" y1="2600" x2="1526.9499999999998" y2="2950"/>
<line x1="1500" y1="2679.8" x2="1750" y2="2679.8"/>
<line x1="1553.1" y1="2600" x2="1553.1" y2="2950"/>
<line x1="1500" y1="2705.9500000000003" x2="1750" y2="2705.9500000000003"/>
<line x1="1579.25" y1="2600" x2="1579.25" y2="2950"/>
<line x1="1500" y1="2732.1000000000004" x2="1750" y2="2732.1000000000004"/>
<line x1="1605.3999999999999" y1="2600" x2="1605.3999999999999" y2="2950"/>
<line x1="1500" y1="2758.25" x2="1750" y2="2758.25"/>
<line x1="1631.55" y1="2600" x2="1631.55" y2="2950"/>
<line x1="1500" y1="2784.4" x2="1750" y2="2784.4"/>
<line x1="1657.6999999999998" y1="2600" x2="1657.6999999999998" y2="2950"/>
<line x1="1500" y1="2810.55" x2="1750" y2="2810.55"/>
<line x1="1683.85" y1="2600" x2="1683.85" y2="2950"/>
<line x1="1500" y1="2836.7000000000003" x2="1750" y2="2836.7000000000003"/>
<line x1="1710.0" y1="2600" x2="1710.0" y2="2950"/>
<line x1="1500" y1="2862.8500000000004" x2="1750" y2="2862.8500000000004"/>
<line x1="1736.1499999999999" y1="2600" x2="1736.1499999999999" y2="2950"/>
<line x1="1500" y1="2889.0" x2="1750" y2="2889.0"/>
<line x1="1762.3" y1="2600" x2="1762.3" y2="2950"/>
<line x1="1500" y1="2915.15" x2="1750" y2="2915.15"/>
<line x1="1788.4499999999998" y1="2600" x2="1788.4499999999998" y2="2950"/>
<line x1="1500" y1="2941.3" x2="1750" y2="2941.3"/>
<line x1="1814.6" y1="2600" x2="1814.6" y2="2950"/>
<line x1="1500" y1="2967.4500000000003" x2="1750" y2="2967.4500000000003"/>
<line x1="1840.75" y1="2600" x2="1840.75" y2="2950"/>
<line x1="1500" y1="2993.6000000000004" x2="1750" y2="2993.6000000000004"/>
<line x1="1866.8999999999999" y1="2600" x2="1866.8999999999999" y2="2950"/>
<line x1="1500" y1="3019.75" x2="1750" y2="3019.75"/>
<line x1="1893.05" y1="2600" x2="1893.05" y2="2950"/></g>
<g stroke="#12071a" stroke-width="4.2" fill="none" stroke-linejoin="round" stroke-linecap="round">
<!-- handle -->
<path d="M1173.3,598.3 H2353.5 V637"/>
<path d="M1173.3,598.3 V834.2 L1413.5,937.2 H1655.3"/>
<path d="M1296.2,598.3 V884.9"/>
<path d="M1542.8,937.2 V774.5 C1542.8,693.1 1616.3,629.2 1697.1,629.2 H2257.7 C2290,630 2330,632 2353.5,635.5"/>
<path d="M1655.3,937.2 V875.5 M1655.3,781 V759.3 C1655.3,716.9 1703,689.3 1739.4,687.8 L2230.1,669.1 C2314.9,665.8 2337.2,641.5 2353.5,637"/>
<path d="M1657.5,781 Q1689,829 1657.5,875.5 M1655.5,781 Q1646.5,829 1655.5,875.5"/>
<path d="M1658.3,783 V873"/>
<ellipse cx="1669.1" cy="829.6" rx="4.8" ry="13" fill="#12071a" stroke="none"/>
<path d="M1232.3,861.3 Q1203,910 1201.8,983.8 H1627.5 Q1628,960 1623.6,937.2"/>
<!-- body -->
<path d="M1173.3,2220.5 V989 H2220.5 V1246"/>
<path d="M1296.2,989 V2220.5"/>
<path d="M1173.3,2220.5 H1655.3"/>
<path d="M1542.6,2220.5 V1397.8 C1542.8,1201.4 1720.9,1049.8 1891.3,1049.8 H2104.9 C2125.2,1049.8 2220.5,1172 2220.5,1215.5"/>
<path d="M2220.5,1246 L1962.4,1253.9 C1741.4,1260.8 1655.5,1426.6 1655.5,1552.5 V2220.5"/>
<!-- nozzle -->
<path d="M2220.5,1062.5 H2247.5 M2220.5,1171.2 H2247.5"/>
<path d="M2253.4,1006.6 L2248.1,1011.2 V1224 L2253.4,1227 M2253.4,1006.6 H2334.2 V1227 H2253.4 Z"/>
<path d="M2337.3,1006.6 V1227"/>
<path d="M2337.3,1006.6 L2359,983.3 M2337.3,1227 L2359,1250.4"/>
<path d="M2359,983.3 V1250.4" stroke-width="6"/>
<path d="M2359,983.3 H2433.5 V1250.4 H2359"/>
<path d="M2433.5,993.2 H2495 L2505.9,1003.5 V1230.2 L2495,1240.1 H2433.5"/>
<path d="M2495,993.2 V1067 H2468.6 V1166.5 H2495 V1240.1"/>
<path d="M2495,1067 Q2510.6,1117.7 2495,1166.5"/>
</g>
<g stroke="#12071a" stroke-width="2" fill="none">
<path d="M2189.4,1117.8 H2256 M2274.5,1117.8 H2294.7 M2313.4,1117.8 H2411.2 M2429.8,1117.8 H2451 M2470,1117.8 H2537 M2540.7,1117.8 H2764.3"/>
<path d="M1414,901.4 V1020 M1414.2,2026.6 V2154.7 M1414.2,2189.6 V2251.7"/>
<path d="M1234.1,2220.5 V2426 M1593.8,2220.5 V2426"/>
</g>
<g stroke="#12071a" stroke-width="4.2" fill="none" stroke-linejoin="round" stroke-linecap="round">
<!-- pipes in counter -->
<path d="M1279.9,2220.5 V2426.3 M1353.9,2220.5 V2426.3"/>
<path d="M1284.3,2224 V2256 M1284.3,2276 V2315.6 M1284.3,2334.5 V2374 M1284.3,2392.7 V2424 M1348.8,2224 V2256 M1348.8,2276 V2315.6 M1348.8,2334.5 V2374 M1348.8,2392.7 V2424"/>
<path d="M1429.5,2220.5 V2248.3 M1531.7,2220.5 V2248.3"/>
<path d="M1429.5,2248.3 H1531.7 C1543,2255 1543,2274 1531.7,2280.7 H1429.5 C1418,2274 1418,2255 1429.5,2248.3 Z"/>
<path d="M1429.5,2280.7 V2368.7 M1531.7,2280.7 V2368.7"/>
<path d="M1420.4,2401 V2378 Q1420.4,2368.7 1430,2368.7 H1532 Q1541.3,2368.7 1541.3,2378 V2401 Z"/>
<path d="M1430,2401 V2426.3 M1531.7,2401 V2426.3"/>
<!-- plate -->
<path d="M1106.3,2426.3 H1723 V2467.1 H1106.3 Z M1106.3,2446.7 H1723"/>
<!-- small nut -->
<path d="M1258,2470.3 V2578.6 M1376.1,2470.3 V2578.6 M1287.3,2470.3 V2578.6 M1345.8,2470.3 V2578.6"/>
<path d="M1258,2470.3 Q1272.6,2462 1287.3,2470.3 Q1316.5,2462 1345.8,2470.3 Q1361,2462 1376.1,2470.3"/>
<path d="M1258,2578.6 Q1272.6,2589 1287.3,2578.6 Q1316.5,2589 1345.8,2578.6 Q1361,2589 1376.1,2578.6"/>
<path d="M1272,2584 H1362"/>
<!-- bolt -->
<path d="M1279.9,2584 V2685 L1284,2689 H1311.5 V2668.8 H1322.3 V2689 H1349.8 L1353.9,2685 V2584"/>
<path d="M1284.3,2585 V2626.4 M1284.3,2643.9 V2684.3 H1311.5 M1349.2,2585 V2626.4 M1349.2,2643.9 V2684.3 H1322.3" stroke-width="2.2"/>
<!-- vertical hose -->
<path d="M1430,2467.4 V2606.2 M1531.7,2467.4 V2606.2 M1430,2635.1 V2922.5 M1531.7,2635.1 V2922.5"/>
<path d="M1420.2,2606.2 H1543.4 M1420.5,2635.1 H1543.8" stroke-linecap="round"/>
<!-- diagonal hose edges -->
<path d="M1532.4,2660.7 L1657.7,2820.1 M1532.4,2822.2 L1579,2883.3"/>
</g>
<g stroke="#12071a" stroke-width="4.2" fill="none" stroke-linejoin="round" stroke-linecap="round">
<path d="M1420.7,2922.5 H1541.3 V2945 Q1541.3,2955.6 1531,2955.6 H1431 Q1420.7,2955.6 1420.7,2945 Z" fill="#fff"/>
<path d="M1430,2955.6 V3042.9 M1531.7,2955.6 V3042.9"/>
<path d="M1430,3042.9 H1531.7 C1543,3048 1543,3071 1531.7,3076.2 H1430 C1419,3071 1419,3048 1430,3042.9 Z"/>
<path d="M1430,3076.2 V3086.3 M1531.7,3076.2 V3086.3"/>
<path d="M1366.3,3094.9 V3184.2 M1425,3094.9 V3184.2 M1542.5,3094.9 V3184.2 M1601.6,3094.9 V3184.2"/>
<path d="M1366.3,3094.9 Q1395.6,3078 1425,3094.9 Q1483.7,3077.7 1542.5,3094.9 Q1572,3078 1601.6,3094.9"/>
<path d="M1366.3,3184.2 Q1395.6,3201 1425,3184.2 Q1483.7,3201.8 1542.5,3184.2 Q1572,3201 1601.6,3184.2"/>
<path d="M1397,3086.3 H1568 M1397,3193.5 H1568"/>
</g>
<g transform="translate(1619.9,2851.7) rotate(-38.7) translate(-1481,-2922.5)"><g stroke="#12071a" stroke-width="4.2" fill="none" stroke-linejoin="round" stroke-linecap="round">
<path d="M1420.7,2922.5 H1541.3 V2945 Q1541.3,2955.6 1531,2955.6 H1431 Q1420.7,2955.6 1420.7,2945 Z" fill="#fff"/>
<path d="M1430,2955.6 V3042.9 M1531.7,2955.6 V3042.9"/>
<path d="M1430,3042.9 H1531.7 C1543,3048 1543,3071 1531.7,3076.2 H1430 C1419,3071 1419,3048 1430,3042.9 Z"/>
<path d="M1430,3076.2 V3086.3 M1531.7,3076.2 V3086.3"/>
<path d="M1366.3,3094.9 V3184.2 M1425,3094.9 V3184.2 M1542.5,3094.9 V3184.2 M1601.6,3094.9 V3184.2"/>
<path d="M1366.3,3094.9 Q1395.6,3078 1425,3094.9 Q1483.7,3077.7 1542.5,3094.9 Q1572,3078 1601.6,3094.9"/>
<path d="M1366.3,3184.2 Q1395.6,3201 1425,3184.2 Q1483.7,3201.8 1542.5,3184.2 Q1572,3201 1601.6,3184.2"/>
<path d="M1397,3086.3 H1568 M1397,3193.5 H1568"/>
</g></g>

<g>
<path d="M24.6,-65.8 V0 H16.1 V-51 Q7.6,-46.1 0,-42 V-49.7 Q9.2,-54.7 18.9,-65.8 Z" transform="translate(1742.9,362.3)" fill="#12071a"/>
<text transform="translate(1784.1,362.5) scale(0.978,1)">30</text>
<path d="M24.6,-65.8 V0 H16.1 V-51 Q7.6,-46.1 0,-42 V-49.7 Q9.2,-54.7 18.9,-65.8 Z" transform="translate(1903.9,2030.3)" fill="#12071a"/>
<text transform="translate(1945,2030.5) scale(0.987,1)">06</text>
<text x="1374" y="1876.4">47</text>
<text transform="translate(1644.5,2596.1) scale(0.985,1)">Ø35</text>
<path d="M24.6,-65.8 V0 H16.1 V-51 Q7.6,-46.1 0,-42 V-49.7 Q9.2,-54.7 18.9,-65.8 Z" transform="translate(767.3,1498) rotate(-90)" fill="#12071a"/>
<text transform="translate(767.5,1457.8) rotate(-90) scale(0.986,1)">58</text>
<path d="M24.6,-65.8 V0 H16.1 V-51 Q7.6,-46.1 0,-42 V-49.7 Q9.2,-54.7 18.9,-65.8 Z" transform="translate(2691.2,1724.1) rotate(-90)" fill="#12071a"/>
<text transform="translate(2691.2,1683) rotate(-90) scale(0.988,1)">08</text>
<text transform="translate(766.7,2790) rotate(-90) scale(0.985,1)">Max.35</text>
</g>
</svg>
</body></html>
